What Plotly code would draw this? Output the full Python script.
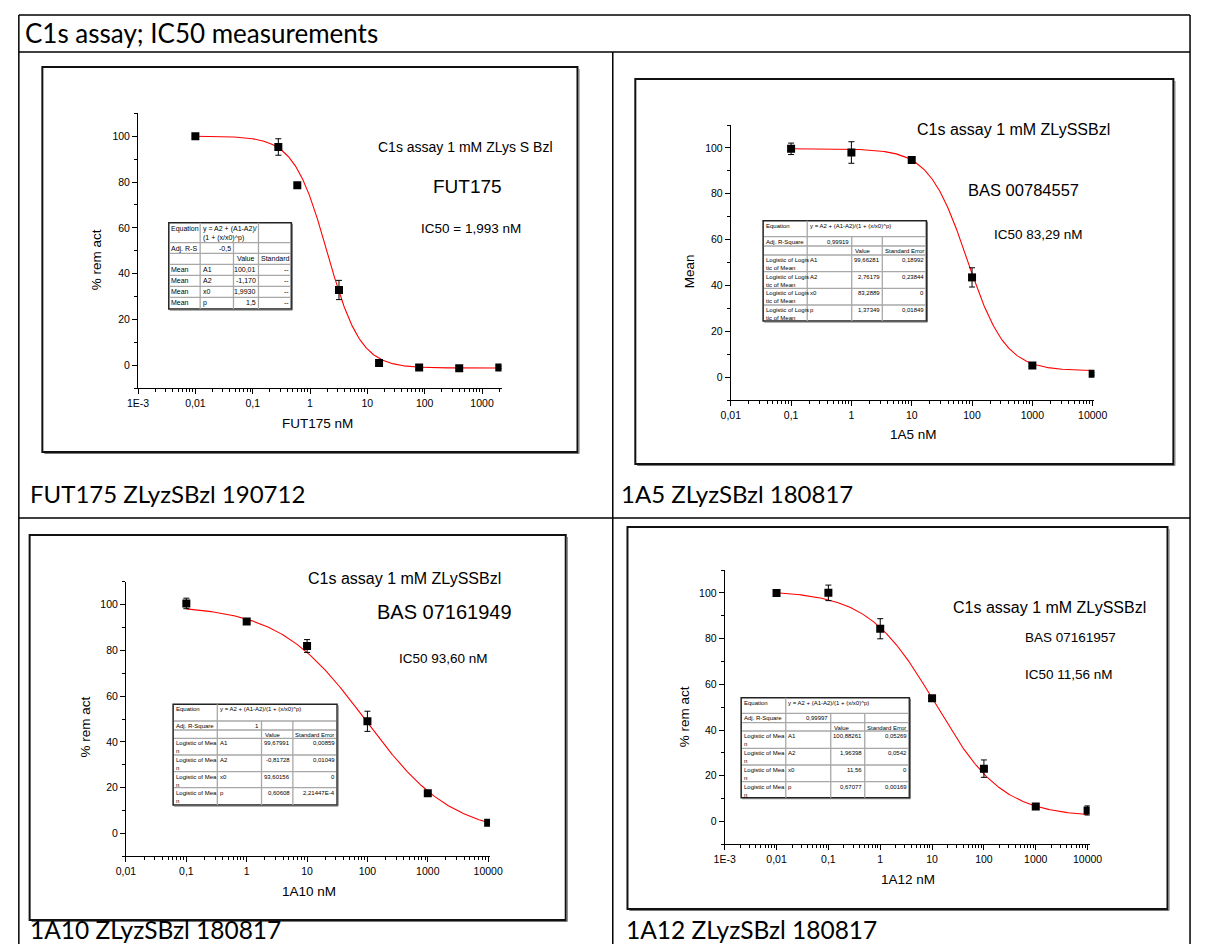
import numpy as np
import plotly.graph_objects as go

W, H = 1205, 944
ARIAL = "Liberation Sans, Arial, sans-serif"
CAPF = "Lato, Carlito, Calibri, sans-serif"

# ---------------- data ----------------
fut175_conc = [0.01, 0.28, 0.6, 3.2, 16, 80, 400, 2000]
fut175_mean = [100.0, 95.3, 78.6, 32.9, 1.0, -0.9, -1.2, -0.9]
fut175_err = [0.5, 3.6, 0.0, 4.2, 0.6, 0.5, 0.5, 0.5]
fut175_fit = [100.01, -1.170, 1.9930, 1.5]          # A1, A2, x0, p

a5_conc = [0.1, 1, 10, 100, 1000, 10000]
a5_mean = [99.6, 98.0, 94.7, 43.5, 5.1, 1.5]
a5_err = [2.5, 4.7, 1.5, 4.2, 0.8, 0.6]
a5_fit = [99.66281, 2.76179, 83.2889, 1.37349]

a10_conc = [0.1, 1, 10, 100, 1000, 10000]
a10_mean = [100.5, 92.6, 81.9, 49.0, 17.6, 4.7]
a10_err = [2.3, 0.8, 2.8, 4.4, 1.0, 0.7]
a10_fit = [99.67991, -0.81728, 93.60156, 0.60608]

a12_conc = [0.01, 0.1, 1, 10, 100, 1000, 10000]
a12_mean = [99.9, 100.0, 84.3, 53.9, 23.1, 6.5, 4.8]
a12_err = [0.6, 3.4, 4.4, 0.7, 3.8, 0.8, 2.0]
a12_fit = [100.88261, 1.96398, 11.56, 0.67077]

xt_vals_a = [1e-3, 1e-2, 0.1, 1, 10, 100, 1000]
xt_text_a = ["1E-3", "0,01", "0,1", "1", "10", "100", "1000"]
xt_vals_b = [1e-2, 0.1, 1, 10, 100, 1000, 10000]
xt_text_b = ["0,01", "0,1", "1", "10", "100", "1000", "10000"]
xt_vals_c = [1e-3, 1e-2, 0.1, 1, 10, 100, 1000, 10000]
xt_text_c = ["1E-3", "0,01", "0,1", "1", "10", "100", "1000", "10000"]
yt_vals = [0, 20, 40, 60, 80, 100]

page_title = "C1s assay; IC50 measurements"
captions = ["FUT175 ZLyzSBzl 190712", "1A5 ZLyzSBzl 180817",
            "1A10 ZLyzSBzl 180817", "1A12 ZLyzSBzl 180817"]
assay_texts = ["C1s assay 1 mM ZLys S Bzl", "C1s assay 1 mM ZLySSBzl",
               "C1s assay 1 mM ZLySSBzl", "C1s assay 1 mM ZLySSBzl"]
compound_texts = ["FUT175", "BAS 00784557", "BAS 07161949", "BAS 07161957"]
ic50_texts = ["IC50 = 1,993 nM", "IC50 83,29 nM", "IC50 93,60 nM", "IC50 11,56 nM"]
x_titles = ["FUT175 nM", "1A5 nM", "1A10 nM", "1A12 nM"]
y_titles = ["% rem act", "Mean", "% rem act", "% rem act"]

param_names = ["A1", "A2", "x0", "p"]
t1_eq = "y = A2 + (A1-A2)/<br>(1 + (x/x0)^p)"
t1_adj = ["Adj. R-S", "-0,5"]
t1_hdr = ["Value", "Standard"]
t1_rowlab = "Mean"
t1_vals = ["100,01", "-1,170", "1,9930", "1,5"]
t1_se = ["--", "--", "--", "--"]

eq_long = "y = A2 + (A1-A2)/(1 + (x/x0)^p)"
t2_adj = ["Adj. R-Square", "0,99919"]
t2_hdr = ["Value", "Standard Error"]
t2_rowlab = "Logistic of Logis<br>tic of Mean"
t2_vals = ["99,66281", "2,76179", "83,2889", "1,37349"]
t2_se = ["0,18992", "0,23844", "0", "0,01849"]

t3_adj = ["Adj. R-Square", "1"]
t3_rowlab = "Logistic of Mea<br>n"
t3_vals = ["99,67991", "-0,81728", "93,60156", "0,60608"]
t3_se = ["0,00859", "0,01049", "0", "2,21447E-4"]

t4_adj = ["Adj. R-Square", "0,99997"]
t4_vals = ["100,88261", "1,96398", "11,56", "0,67077"]
t4_se = ["0,05269", "0,0542", "0", "0,00169"]

# ---------------- helpers ----------------
def PX(x):
    return x / W

def PY(y):
    return 1 - y / H

shapes, annots = [], []

def line(x0, y0, x1, y1, color="black", width=1.5):
    shapes.append(dict(type="line", xref="paper", yref="paper", x0=PX(x0), y0=PY(y0),
                       x1=PX(x1), y1=PY(y1), line=dict(color=color, width=width), layer="above"))

def rect(x0, y0, x1, y1, color="black", width=2, fill=None):
    d = dict(type="rect", xref="paper", yref="paper", x0=PX(x0), y0=PY(y0), x1=PX(x1), y1=PY(y1),
             line=dict(color=color, width=width), layer="above")
    if fill:
        d["fillcolor"] = fill
    shapes.append(d)

def frame(x0, y0, x1, y1):
    rect(x0, y0, x1, y1, color="#111", width=2)
    line(x1 + 1.5, y0 + 2, x1 + 1.5, y1 + 1.5, color="#777", width=1.2)
    line(x0 + 2, y1 + 1.5, x1 + 1.5, y1 + 1.5, color="#777", width=1.2)

def txt(x, y, s, size, family=ARIAL, xanchor="center", yanchor="middle", angle=0):
    annots.append(dict(x=PX(x), y=PY(y), xref="paper", yref="paper", text=s, showarrow=False,
                       xanchor=xanchor, yanchor=yanchor, textangle=angle, borderpad=0,
                       align=xanchor if xanchor != "center" else "center",
                       font=dict(family=family, size=size, color="black")))

def table(cols, rows, eq, eq_full, adj, hdr, rowlab, vals, ses, fs):
    rect(cols[0], rows[0], cols[4], rows[-1], color="#222", width=1.5, fill="white")
    line(cols[4] + 1, rows[0] + 1, cols[4] + 1, rows[-1] + 1, color="#666", width=1)
    line(cols[0] + 1, rows[-1] + 1, cols[4] + 1, rows[-1] + 1, color="#666", width=1)
    for r in rows[1:-1]:
        line(cols[0] + 1, r, cols[4] - 1, r, color="#a8a8a8", width=1.3)
    line(cols[1], rows[0], cols[1], rows[-1], color="#a8a8a8", width=1.3)
    line(cols[2], rows[1], cols[2], rows[-1], color="#a8a8a8", width=1.3)
    line(cols[3], rows[1] if eq_full else rows[0], cols[3], rows[-1], color="#a8a8a8", width=1.3)
    p = 1.5
    txt(cols[0] + p, rows[0] + 1, "Equation", fs, xanchor="left", yanchor="top")
    txt(cols[1] + p, rows[0] + 1, eq, fs, xanchor="left", yanchor="top")
    txt(cols[0] + p, rows[1] + 1, adj[0], fs, xanchor="left", yanchor="top")
    txt(cols[2] - p, rows[1] + 1, adj[1], fs, xanchor="right", yanchor="top")
    txt(cols[2] + p + 1, rows[2] + 1, hdr[0], fs, xanchor="left", yanchor="top")
    txt(cols[3] + p, rows[2] + 1, hdr[1], fs, xanchor="left", yanchor="top")
    for i in range(4):
        r = rows[3 + i]
        txt(cols[0] + p, r + 1, rowlab, fs, xanchor="left", yanchor="top")
        txt(cols[1] + p, r + 1, param_names[i], fs, xanchor="left", yanchor="top")
        txt(cols[3] - p, r + 1, vals[i], fs, xanchor="right", yanchor="top")
        txt(cols[4] - p, r + 1, ses[i], fs, xanchor="right", yanchor="top")

def logistic(x, prm):
    A1, A2, x0, p = prm
    return A2 + (A1 - A2) / (1 + (x / x0) ** p)

fig = go.Figure()

panels = [
    dict(conc=fut175_conc, mean=fut175_mean, err=fut175_err, fit=fut175_fit,
         ax=(129.6, 500.5, 113.3, 388.3), xr=[-3, 3.34], tv=xt_vals_a, tt=xt_text_a),
    dict(conc=a5_conc, mean=a5_mean, err=a5_err, fit=a5_fit,
         ax=(734.4, 1105.5, 125.0, 400.0), xr=[-2, 4.03], tv=xt_vals_b, tt=xt_text_b),
    dict(conc=a10_conc, mean=a10_mean, err=a10_err, fit=a10_fit,
         ax=(117.3, 488.7, 581.7, 856.3), xr=[-2, 4.03], tv=xt_vals_b, tt=xt_text_b),
    dict(conc=a12_conc, mean=a12_mean, err=a12_err, fit=a12_fit,
         ax=(728.2, 1100.6, 570.0, 844.3), xr=[-3, 4.04], tv=xt_vals_c, tt=xt_text_c),
]

layout_axes = {}
for i, pn in enumerate(panels):
    k = "" if i == 0 else str(i + 1)
    xl, xr_, yt, yb = pn["ax"]
    xs = np.logspace(np.log10(min(pn["conc"])), np.log10(max(pn["conc"])), 400)
    fig.add_trace(go.Scatter(x=xs, y=logistic(xs, pn["fit"]), mode="lines",
                             line=dict(color="#ff0000", width=1.1), xaxis="x" + k, yaxis="y" + k,
                             hoverinfo="skip", showlegend=False))
    fig.add_trace(go.Scatter(x=pn["conc"], y=pn["mean"], mode="markers",
                             marker=dict(symbol="square", size=8, color="black"),
                             error_y=dict(type="data", array=pn["err"], color="black",
                                          thickness=1, width=3),
                             xaxis="x" + k, yaxis="y" + k, showlegend=False))
    lo, hi = int(np.floor(pn["xr"][0])), int(np.ceil(pn["xr"][1]))
    minor_x = [m * 10.0 ** e for e in range(lo, hi + 1) for m in range(2, 10)]
    layout_axes["xaxis" + k] = dict(
        type="log", domain=[PX(xl), PX(xr_)], range=pn["xr"], anchor="y" + k,
        tickmode="array", tickvals=pn["tv"], ticktext=pn["tt"],
        ticks="outside", ticklen=5, tickwidth=1, tickcolor="black",
        showline=True, linecolor="black", linewidth=1, showgrid=False, zeroline=False,
        tickfont=dict(family=ARIAL, size=10.5, color="black"),
        minor=dict(tickmode="array", tickvals=minor_x, ticks="outside", ticklen=3,
                   tickwidth=1, tickcolor="black", showgrid=False),
        fixedrange=True)
    layout_axes["yaxis" + k] = dict(
        domain=[PY(yb), PY(yt)], range=[-10, 110], anchor="x" + k,
        tickmode="array", tickvals=yt_vals, ticks="outside", ticklen=5, tickwidth=1,
        tickcolor="black", showline=True, linecolor="black", linewidth=1,
        showgrid=False, zeroline=False,
        tickfont=dict(family=ARIAL, size=10.5, color="black"),
        minor=dict(tickmode="array", tickvals=[-10, 10, 30, 50, 70, 90, 110], ticks="outside",
                   ticklen=3, tickwidth=1, tickcolor="black", showgrid=False),
        fixedrange=True)

# ---------------- outer document table ----------------
line(8, 15, 1203, 15)
line(8, 15, 8, 944)
line(1203, 15, 1203, 944)
line(8, 52, 1203, 52)
line(614, 52, 614, 944)
line(8, 518, 1203, 518)
txt(13, 33, page_title, 26, family=CAPF, xanchor="left")
txt(18, 493, captions[0], 24, family=CAPF, xanchor="left")
txt(621, 493, captions[1], 24, family=CAPF, xanchor="left")
txt(18, 929, captions[2], 24.5, family=CAPF, xanchor="left")
txt(626, 929, captions[3], 24.5, family=CAPF, xanchor="left")

# ---------------- panel frames ----------------
frame(32, 67, 578, 452)
frame(637, 79, 1186, 464)
frame(19, 535, 566, 920)
frame(629, 527, 1180, 909)

# ---------------- panel texts ----------------
txt(464, 147, assay_texts[0], 14)
txt(466, 187, compound_texts[0], 19)
txt(469, 228, ic50_texts[0], 13.5)
txt(88, 260, y_titles[0], 13.5, angle=-90)
txt(313, 423, x_titles[0], 13.5)

txt(1023, 130, assay_texts[1], 16)
txt(1033, 190, compound_texts[1], 16.5)
txt(1048, 234, ic50_texts[1], 13.5)
txt(692, 271, y_titles[1], 13.5, angle=-90)
txt(921, 434, x_titles[1], 13.5)

txt(401, 578, assay_texts[2], 16)
txt(442, 612, compound_texts[2], 20)
txt(441, 658, ic50_texts[2], 13.5)
txt(75, 727, y_titles[2], 13.5, angle=-90)
txt(304, 891, x_titles[2], 13.5)

txt(1060, 607, assay_texts[3], 16)
txt(1081, 637, compound_texts[3], 13.5)
txt(1080, 674, ic50_texts[3], 13.5)
txt(687, 717, y_titles[3], 13.5, angle=-90)
txt(915, 879, x_titles[3], 13.5)

# ---------------- inset fit tables ----------------
table([161, 193, 227, 252.5, 286], [222.7, 242.7, 253.3, 264.3, 275.3, 286.3, 297.3, 309],
      t1_eq, False, t1_adj, t1_hdr, t1_rowlab, t1_vals, t1_se, 7)
table([767.4, 812.4, 857.8, 889, 934], [220.7, 236.7, 246, 255, 271.7, 288.3, 305, 321],
      eq_long, True, t2_adj, t2_hdr, t2_rowlab, t2_vals, t2_se, 6)
table([165.4, 210.5, 255.6, 287.6, 332.7], [704.3, 721, 730, 738.3, 755, 771.7, 787.7, 805],
      eq_long, True, t3_adj, t2_hdr, t3_rowlab, t3_vals, t3_se, 6)
table([745, 790.5, 836.4, 871.1, 916.6], [697.7, 713.3, 722.7, 731, 748.3, 765, 781.7, 797.7],
      eq_long, True, t4_adj, t2_hdr, t3_rowlab, t4_vals, t4_se, 6)

fig.update_layout(width=W, height=H, autosize=False, margin=dict(l=0, r=0, t=0, b=0),
                  paper_bgcolor="white", plot_bgcolor="rgba(0,0,0,0)", showlegend=False,
                  shapes=shapes, annotations=annots, **layout_axes)

fig.write_html("out.html", config={"displayModeBar": False},
               post_script="document.body.style.margin='0';document.body.style.overflow='hidden';")
